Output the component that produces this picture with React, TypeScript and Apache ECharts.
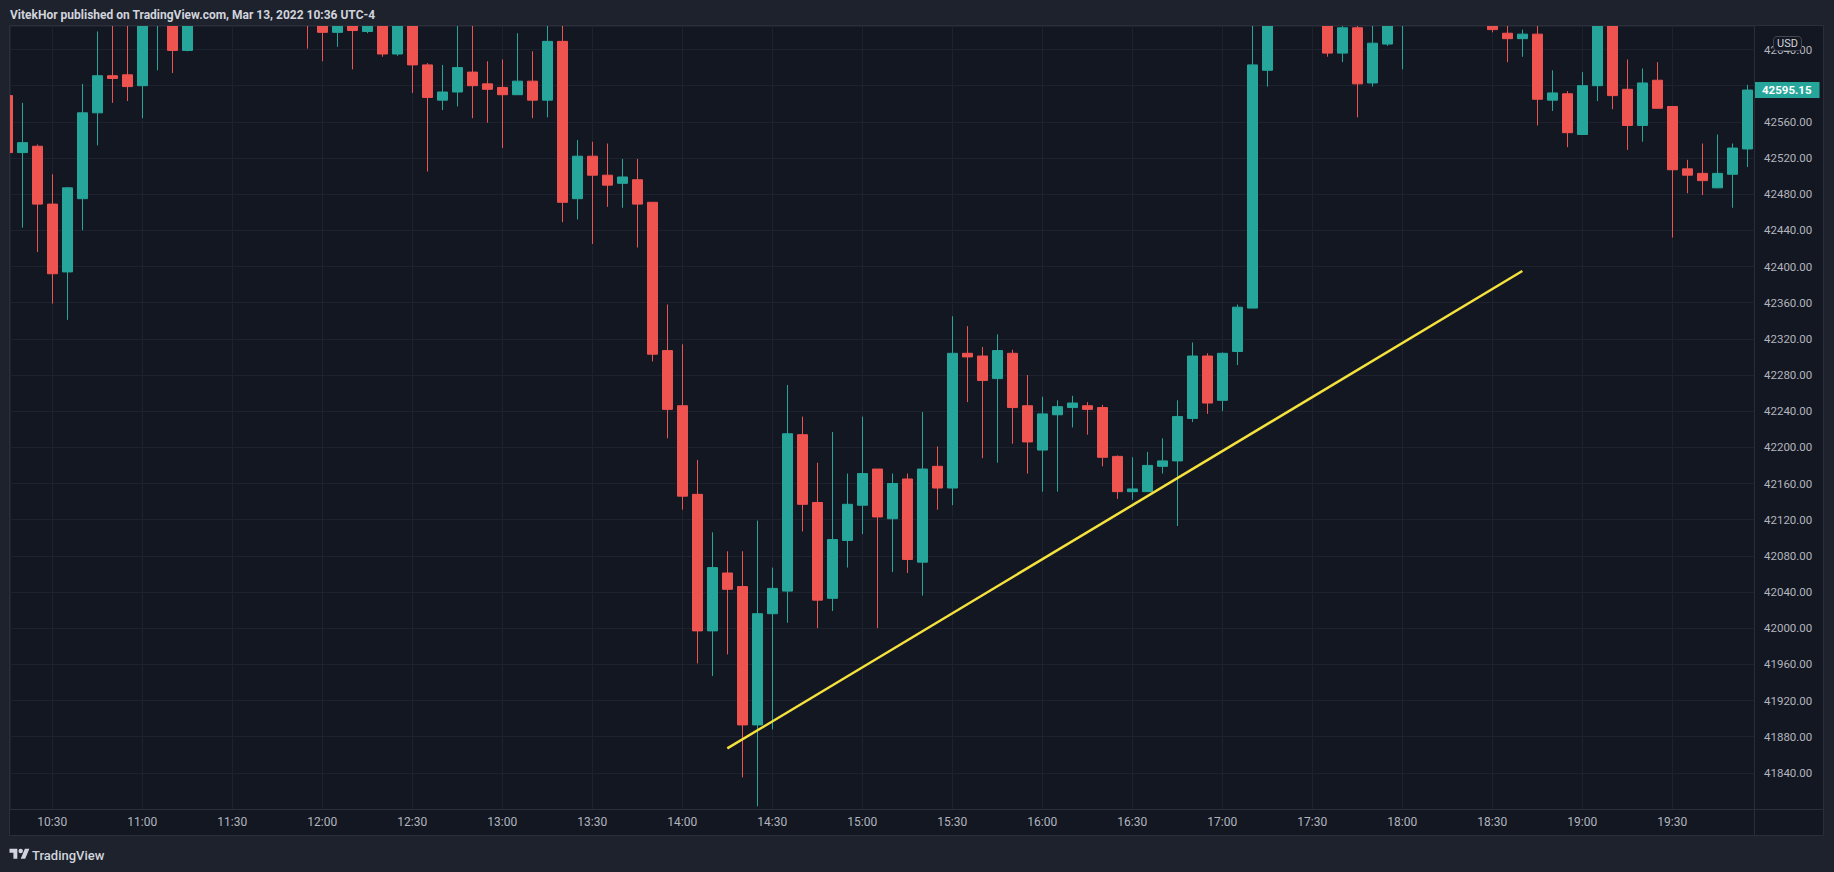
import React, { useEffect, useRef } from 'react';
import * as echarts from 'echarts';

// 5-minute candles, BTC/USD, Mar 13 2022 (first candle 10:15, last 19:55)
const firstTime = '10:15';
const stepMinutes = 5;

const opens = [
  42589, 42526, 42533, 42469, 42394, 42475, 42570, 42611, 42612, 42600,
  42680, 42672, 42639, 42680, 42705, 42720, 42702, 42715, 42698, 42690,
  42700, 42675, 42659, 42672, 42660, 42676, 42635, 42676, 42623, 42584,
  42593, 42615, 42602, 42598, 42590, 42605, 42584, 42649, 42475, 42522,
  42501, 42492, 42496, 42471, 42307, 42246, 42148, 41997, 42061, 42046,
  41893, 42016, 42041, 42214, 42139, 42033, 42097, 42136, 42176, 42121,
  42165, 42073, 42179, 42155, 42304, 42301, 42276, 42304, 42246, 42197,
  42236, 42244, 42246, 42244, 42190, 42151, 42151, 42179, 42185, 42232,
  42301, 42252, 42306, 42354, 42617, 42700, 42725, 42710, 42690, 42636,
  42664, 42603, 42646, 42685, 42700, 42715, 42705, 42722, 42700, 42672,
  42658, 42652, 42657, 42584, 42591, 42546, 42600, 42672, 42596, 42556,
  42606, 42577, 42508, 42503, 42487, 42502, 42530,
];
const closes = [
  42526, 42537, 42469, 42392, 42487, 42570, 42611, 42608, 42599, 42690,
  42705, 42639, 42672, 42705, 42720, 42702, 42715, 42698, 42690, 42700,
  42680, 42659, 42672, 42661, 42672, 42635, 42676, 42623, 42587, 42593,
  42620, 42600, 42596, 42590, 42605, 42584, 42649, 42471, 42522, 42501,
  42490, 42499, 42469, 42303, 42242, 42146, 41997, 42067, 42043, 41893,
  42016, 42044, 42215, 42137, 42031, 42098, 42137, 42171, 42123, 42160,
  42076, 42176, 42155, 42304, 42300, 42274, 42307, 42244, 42206, 42237,
  42245, 42249, 42242, 42189, 42151, 42154, 42180, 42185, 42234, 42301,
  42249, 42304, 42355, 42623, 42700, 42725, 42710, 42695, 42636, 42664,
  42602, 42647, 42680, 42700, 42715, 42705, 42722, 42700, 42677, 42662,
  42652, 42657, 42585, 42592, 42548, 42600, 42672, 42589, 42556, 42603,
  42575, 42507, 42501, 42495, 42503, 42531, 42595.15,
];
const lows = [
  42524, 42443, 42416, 42359, 42341, 42440, 42534, 42581, 42583, 42564,
  42617, 42614, 42638, 42676, 42690, 42688, 42694, 42685, 42680, 42677,
  42641, 42627, 42643, 42618, 42658, 42632, 42633, 42592, 42505, 42573,
  42577, 42564, 42559, 42531, 42590, 42564, 42565, 42449, 42452, 42425,
  42466, 42465, 42421, 42295, 42210, 42131, 41961, 41947, 41971, 41835,
  41803, 41888, 42006, 42107, 42000, 42019, 42067, 42104, 42000, 42062,
  42061, 42036, 42131, 42136, 42250, 42188, 42183, 42204, 42171, 42151,
  42151, 42222, 42214, 42179, 42143, 42142, 42151, 42171, 42113, 42228,
  42237, 42240, 42291, 42354, 42599, 42685, 42695, 42680, 42632, 42626,
  42565, 42599, 42644, 42618, 42690, 42692, 42698, 42688, 42676, 42659,
  42626, 42632, 42556, 42572, 42532, 42546, 42583, 42574, 42529, 42538,
  42575, 42432, 42481, 42479, 42487, 42465, 42510,
];
const highs = [
  42592, 42581, 42535, 42502, 42488, 42602, 42660, 42668, 42668, 42705,
  42720, 42690, 42685, 42712, 42735, 42730, 42725, 42722, 42708, 42712,
  42712, 42690, 42680, 42682, 42682, 42690, 42695, 42688, 42625, 42623,
  42672, 42672, 42627, 42629, 42658, 42638, 42672, 42672, 42540, 42538,
  42536, 42519, 42519, 42471, 42358, 42314, 42186, 42106, 42085, 42085,
  42119, 42067, 42269, 42234, 42183, 42217, 42171, 42234, 42176, 42171,
  42171, 42239, 42201, 42345, 42334, 42311, 42325, 42308, 42280, 42256,
  42252, 42257, 42250, 42247, 42191, 42189, 42195, 42210, 42252, 42316,
  42304, 42305, 42358, 42690, 42715, 42740, 42738, 42722, 42700, 42690,
  42685, 42680, 42690, 42712, 42730, 42728, 42735, 42730, 42710, 42680,
  42670, 42662, 42668, 42617, 42594, 42615, 42680, 42680, 42629, 42619,
  42626, 42577, 42518, 42536, 42546, 42536, 42601,
];

const trendTimes = ['14:15', '18:40'];
const trendValues = [41867, 42395];
const lastPrice = 42595.15;

const yMin = 41800;
const yMax = 42666;
const yInterval = 40;

const titleText = 'VitekHor published on TradingView.com, Mar 13, 2022 10:36 UTC-4';
const currency = 'USD';
const brand = 'TradingView';

const UP = '#26a69a';
const DOWN = '#ef5350';
const PANEL = '#131722';
const FRAME = '#1e222d';
const BORDER = '#2a2e39';
const GRID = '#1e222e';
const TEXT = '#b2b5be';
const FONT = 'Roboto';

const LOGO_D =
  'M14 22H7V11H0V4h14v18zM28 22h-8l7.5-18h8L28 22zM24 8a4 4 0 1 1-8 0a4 4 0 1 1 8 0z';

function ts(hhmm: string): number {
  const [h, m] = hhmm.split(':').map(Number);
  return new Date(2022, 2, 13, h, m, 0).getTime();
}
function pad(n: number) {
  return n < 10 ? '0' + n : '' + n;
}
function buildTimes(): string[] {
  const [h0, m0] = firstTime.split(':').map(Number);
  const out: string[] = [];
  for (let i = 0; i < opens.length; i++) {
    const t = h0 * 60 + m0 + i * stepMinutes;
    out.push(pad(Math.floor(t / 60)) + ':' + pad(t % 60));
  }
  return out;
}

let logoRegistered = false;

export default function App() {
  const ref = useRef<HTMLDivElement>(null);

  useEffect(() => {
    if (!ref.current) return;
    if (!logoRegistered) {
      echarts.graphic.registerShape('tvlogo', echarts.graphic.extendPath(LOGO_D, {}) as any);
      logoRegistered = true;
    }
    const chart = echarts.init(ref.current, undefined, { renderer: 'svg' });
    const times = buildTimes();
    const candles = times.map((t, i) => [ts(t), opens[i], closes[i], lows[i], highs[i]]);
    const xMin = ts(times[0]) + 54 * 1000;
    const xMax = ts(times[times.length - 1]) + 134 * 1000;

    chart.setOption({
      animation: false,
      backgroundColor: PANEL,
      textStyle: { fontFamily: FONT },
      grid: { left: 10, right: 80, top: 26, bottom: 63, containLabel: false },
      xAxis: {
        type: 'time',
        min: xMin,
        max: xMax,
        minInterval: 40 * 60 * 1000,
        maxInterval: 40 * 60 * 1000,
        axisLine: { show: false },
        axisTick: { show: false },
        splitLine: { show: true, lineStyle: { color: GRID, width: 1 } },
        axisLabel: {
          color: TEXT,
          fontSize: 12,
          fontFamily: FONT,
          margin: 7,
          showMinLabel: false,
          showMaxLabel: false,
          formatter: (v: number) => {
            const d = new Date(v);
            return pad(d.getHours()) + ':' + pad(d.getMinutes());
          },
        },
      },
      yAxis: {
        type: 'value',
        position: 'right',
        min: yMin,
        max: yMax,
        interval: yInterval,
        scale: true,
        axisLine: { show: false },
        axisTick: { show: false },
        splitLine: { show: true, lineStyle: { color: GRID, width: 1 } },
        axisLabel: {
          color: TEXT,
          fontSize: 11.5,
          fontFamily: FONT,
          margin: 10,
          showMinLabel: false,
          showMaxLabel: false,
          formatter: (v: number) => v.toFixed(2),
        },
      },
      series: [
        {
          type: 'candlestick',
          data: candles,
          barWidth: 11,
          clip: true,
          itemStyle: {
            color: UP,
            color0: DOWN,
            borderColor: UP,
            borderColor0: DOWN,
            borderWidth: 1,
          },
          markLine: {
            silent: true,
            symbol: ['none', 'none'],
            lineStyle: { color: 'rgba(0,0,0,0)', width: 0, type: 'solid' },
            data: [{ yAxis: lastPrice }],
            label: {
              show: true,
              opacity: 1,
              position: 'end',
              distance: 0,
              formatter: () => lastPrice.toFixed(2),
              color: '#ffffff',
              fontSize: 11.5,
              fontFamily: FONT,
              fontWeight: 'bold',
              backgroundColor: UP,
              padding: [2, 8, 2, 8],
              lineHeight: 12,
            },
          },
        },
        {
          type: 'line',
          data: trendTimes.map((t, i) => [ts(t), trendValues[i]]),
          symbol: 'none',
          lineStyle: { color: '#f5e23c', width: 2.5 },
          z: 5,
        },
      ],
      graphic: [
        { type: 'rect', z: 100, shape: { x: 0, y: 0, width: 1834, height: 25.5 }, style: { fill: FRAME } },
        { type: 'rect', z: 100, shape: { x: 0, y: 835.5, width: 1834, height: 37 }, style: { fill: FRAME } },
        { type: 'rect', z: 100, shape: { x: 0, y: 0, width: 9.5, height: 872 }, style: { fill: FRAME } },
        { type: 'rect', z: 100, shape: { x: 1823.5, y: 0, width: 11, height: 872 }, style: { fill: FRAME } },
        {
          type: 'rect',
          z: 101,
          shape: { x: 9.5, y: 25.5, width: 1814, height: 810 },
          style: { fill: 'none', stroke: BORDER, lineWidth: 1 },
        },
        {
          type: 'line',
          z: 101,
          shape: { x1: 1754.5, y1: 25.5, x2: 1754.5, y2: 835.5 },
          style: { stroke: BORDER, lineWidth: 1 },
        },
        {
          type: 'line',
          z: 101,
          shape: { x1: 9.5, y1: 809.5, x2: 1823.5, y2: 809.5 },
          style: { stroke: BORDER, lineWidth: 1 },
        },
        {
          type: 'text',
          z: 102,
          x: 10,
          y: 15,
          style: {
            text: titleText,
            fill: '#d1d4dc',
            font: `bold 12px ${FONT}`,
            verticalAlign: 'middle',
          },
        },
        {
          type: 'tvlogo',
          z: 102,
          x: 9.5,
          y: 846.5,
          scaleX: 0.56,
          scaleY: 0.56,
          style: { fill: '#d1d4dc' },
        },
        {
          type: 'text',
          z: 102,
          x: 32,
          y: 855,
          style: {
            text: brand,
            fill: '#d1d4dc',
            font: `500 13px ${FONT}`,
            verticalAlign: 'middle',
          },
        },
        {
          type: 'text',
          z: 102,
          x: 1787.5,
          y: 43.5,
          style: {
            text: currency,
            fill: '#d1d4dc',
            font: `11px ${FONT}`,
            align: 'center',
            verticalAlign: 'middle',
            backgroundColor: PANEL,
            borderColor: '#434651',
            borderWidth: 1,
            borderRadius: 3,
            padding: [1, 3, 1, 3],
          },
        },
      ],
    });
    return () => chart.dispose();
  }, []);

  return (
    <div
      ref={ref}
      style={{ position: 'fixed', left: 0, top: 0, width: 1834, height: 872 }}
    />
  );
}
